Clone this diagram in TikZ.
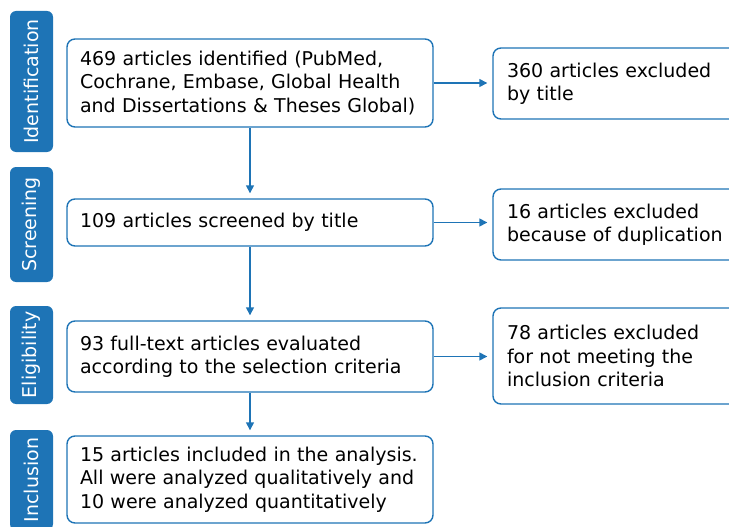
\documentclass[tikz,border=0pt]{standalone}
\usepackage{fontspec}
\setmainfont{DejaVu Sans}
\usetikzlibrary{arrows.meta}
\definecolor{pblue}{RGB}{30,116,182}
\tikzset{
  box/.style={draw=pblue, line width=1.4pt, rounded corners=8pt, fill=white,
    inner xsep=13pt, inner ysep=0pt, align=left, text=black,
    font=\fontsize{19}{23.3}\selectfont},
  mainbox/.style={box, minimum width=366pt, text width=340pt},
  sidebox/.style={box, inner xsep=14pt, minimum width=262pt, text width=234pt},
  tab/.style={fill=pblue, rounded corners=6pt, text=white, rotate=90,
    minimum height=43pt, inner sep=0pt, font=\fontsize{19}{22}\selectfont},
  conn/.style={draw=pblue, line width=1.4pt, -{Triangle[length=8pt,width=8pt]}, shorten >=5pt}
}
\begin{document}
\begin{tikzpicture}[x=1pt,y=-1pt]
\useasboundingbox (0,0) rectangle (729,527);
\clip (0,0) rectangle (729,527);
% tabs
\node[tab, minimum width=141pt] (t1) at (31.5,81.5) {Identification};
\node[tab, minimum width=115pt] (t2) at (31.5,224.5) {Screening};
\node[tab, minimum width=98pt] (t3) at (31.5,355) {Eligibility};
\node[tab, minimum width=100pt] (t4) at (31.5,480) {Inclusion};
% main boxes
\node[mainbox, minimum height=88pt] (b1) at (250,83) {469 articles identified (PubMed,\\Cochrane, Embase, Global Health\\and Dissertations \& Theses Global)};
\node[mainbox, minimum height=47pt] (b2) at (250,222.5) {109 articles screened by title};
\node[mainbox, minimum height=71pt] (b3) at (250,356.5) {93 full-text articles evaluated\\according to the selection criteria};
\node[mainbox, minimum height=87pt] (b4) at (250,479.5) {15 articles included in the analysis.\\All were analyzed qualitatively and\\10 were analyzed quantitatively};
% side boxes
\node[sidebox, minimum height=71pt] (s1) at (624,83.5) {360 articles excluded\\by title};
\node[sidebox, minimum height=71pt] (s2) at (624,224.5) {16 articles excluded\\because of duplication};
\node[sidebox, minimum height=96pt] (s3) at (624,356) {78 articles excluded\\for not meeting the\\inclusion criteria};
% connectors
\draw[conn] (b1) -- (b2);
\draw[conn] (b2) -- (b3);
\draw[conn] (b3) -- (b4);
\draw[conn] (b1.east) -- (b1.east -| s1.west);
\draw[conn] (b2.east) -- (b2.east -| s2.west);
\draw[conn] (b3.east) -- (b3.east -| s3.west);
\end{tikzpicture}
\end{document}
